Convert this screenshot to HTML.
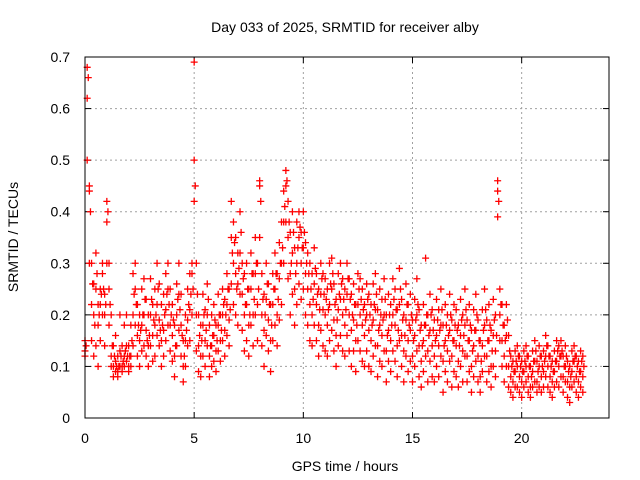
<!DOCTYPE html>
<html><head><meta charset="utf-8"><style>
body{margin:0;background:#fff;}
svg{display:block;font-family:"Liberation Sans",sans-serif;}
</style></head><body>
<svg id="chart" width="640" height="480" viewBox="0 0 640 480">
<rect width="640" height="480" fill="#fff"/>
<text x="345" y="32" font-size="14" text-anchor="middle" fill="#000">Day 033 of 2025, SRMTID for receiver alby</text>
<text transform="translate(18,237) rotate(-90)" font-size="14" text-anchor="middle" fill="#000">SRMTID / TECUs</text>
<text x="345" y="471" font-size="14" text-anchor="middle" fill="#000">GPS time / hours</text>
<g id="grid"></g>
<g id="ticks"></g>
<g id="marks"></g>
<rect x="85" y="57" width="524" height="361" fill="none" stroke="#000" stroke-width="1"/>
</svg>
<script>
const xTicks=[0,5,10,15,20];
const yTicks=[0,0.1,0.2,0.3,0.4,0.5,0.6,0.7];
const yTickLabels=["0","0.1","0.2","0.3","0.4","0.5","0.6","0.7"];
const tStart=0, tStep=0.1, tStartD=0.05;
const trackA=[.13,.62,.45,.22,.2,.25,.18,.22,.28,.2,.38,.25,.12,.1,.11,.09,.13,.1,.12,.14,.1,.12,.2,.25,.16,.15,.18,.2,.17,.14,.2,.16,.18,.22,.19,.15,.17,.21,.25,.18,.16,.12,.2,.24,.18,.1,.15,.19,.21,.28,.5,.2,.14,.12,.18,.15,.2,.12,.14,.16,.13,.18,.15,.2,.17,.22,.19,.35,.3,.28,.26,.32,.24,.2,.22,.18,.25,.2,.28,.22,.45,.2,.17,.23,.19,.15,.22,.25,.2,.27,.3,.38,.45,.35,.28,.32,.25,.3,.35,.3,.33,.28,.25,.22,.2,.26,.22,.18,.24,.21,.2,.18,.22,.25,.19,.16,.21,.23,.2,.18,.24,.2,.17,.19,.15,.22,.2,.18,.16,.2,.17,.15,.19,.21,.14,.18,.16,.2,.13,.17,.15,.2,.18,.14,.22,.16,.13,.19,.15,.17,.12,.16,.2,.14,.11,.15,.18,.13,.17,.14,.12,.16,.14,.18,.11,.15,.13,.17,.12,.15,.14,.11,.16,.13,.18,.12,.15,.1,.14,.17,.12,.08,.14,.18,.12,.15,.1,.16,.13,.44,.2,.15,.12,.16,.1,.08,.07,.09,.1,.08,.07,.09,.1,.08,.06,.09,.11,.07,.1,.08,.09,.12,.1,.08,.07,.09,.11,.1,.12,.08,.1,.07,.06,.09,.11,.08,.07,.09,.08];
const trackB=[.15,.68,.44,.3,.26,.32,.22,.25,.3,.24,.42,.3,.2,.14,.16,.12,.2,.14,.18,.2,.14,.18,.28,.3,.22,.2,.25,.27,.23,.2,.27,.22,.25,.3,.26,.22,.24,.28,.3,.25,.22,.18,.26,.3,.24,.15,.2,.25,.28,.3,.69,.3,.2,.18,.24,.21,.26,.18,.2,.22,.18,.24,.2,.25,.23,.28,.25,.42,.38,.35,.32,.4,.3,.28,.3,.25,.32,.28,.35,.3,.46,.28,.24,.3,.26,.22,.28,.32,.28,.34,.38,.44,.48,.42,.36,.4,.33,.38,.4,.36,.4,.34,.32,.3,.28,.33,.28,.25,.3,.28,.27,.25,.3,.31,.26,.23,.28,.3,.27,.25,.3,.27,.24,.26,.22,.28,.27,.25,.22,.26,.24,.22,.26,.28,.21,.25,.23,.27,.2,.24,.22,.27,.25,.21,.29,.23,.2,.26,.22,.24,.19,.23,.27,.21,.18,.22,.31,.2,.24,.21,.19,.23,.21,.25,.18,.22,.2,.24,.19,.22,.21,.18,.23,.2,.25,.19,.22,.17,.21,.24,.19,.15,.21,.25,.19,.22,.17,.23,.2,.46,.25,.22,.18,.22,.16,.12,.11,.13,.14,.12,.11,.13,.14,.12,.1,.13,.15,.11,.14,.12,.13,.16,.14,.12,.11,.13,.15,.14,.15,.12,.14,.11,.1,.13,.14,.12,.11,.13,.12];
const trackC=[.12,.5,.3,.15,.12,.14,.1,.15,.2,.14,.3,.18,.1,.08,.09,.08,.1,.09,.1,.11,.09,.1,.14,.18,.12,.1,.13,.14,.12,.1,.14,.11,.12,.16,.14,.1,.12,.15,.18,.13,.11,.08,.14,.17,.12,.07,.1,.14,.15,.2,.42,.13,.09,.08,.12,.1,.14,.08,.1,.11,.09,.13,.11,.15,.12,.16,.14,.26,.22,.2,.18,.24,.17,.13,.15,.12,.18,.14,.2,.15,.35,.14,.1,.16,.13,.09,.15,.18,.14,.19,.22,.3,.38,.27,.2,.24,.18,.22,.26,.23,.25,.2,.18,.15,.14,.18,.15,.12,.17,.14,.13,.12,.15,.17,.13,.1,.14,.16,.13,.12,.16,.13,.1,.13,.09,.15,.13,.11,.1,.13,.1,.09,.12,.14,.08,.11,.1,.13,.07,.11,.09,.13,.11,.08,.15,.1,.07,.12,.09,.11,.07,.1,.13,.08,.06,.09,.12,.07,.11,.08,.07,.1,.08,.12,.05,.09,.07,.11,.06,.09,.08,.06,.1,.07,.12,.07,.09,.05,.08,.11,.07,.05,.09,.12,.07,.09,.06,.1,.08,.39,.15,.1,.07,.1,.06,.05,.04,.06,.06,.05,.04,.06,.07,.05,.04,.06,.07,.05,.06,.05,.06,.08,.06,.05,.04,.06,.07,.06,.08,.05,.07,.04,.03,.06,.07,.05,.04,.06,.05];
const trackD=[.14,.66,.4,.26,.18,.28,.2,.24,.25,.22,.4,.22,.14,.12,.1,.1,.12,.11,.13,.12,.12,.15,.24,.22,.18,.17,.2,.23,.15,.16,.23,.19,.2,.25,.17,.18,.2,.24,.22,.2,.19,.14,.23,.21,.16,.12,.17,.22,.24,.25,.45,.24,.16,.15,.2,.17,.23,.14,.16,.19,.15,.2,.17,.22,.2,.25,.21,.32,.34,.25,.29,.36,.27,.22,.25,.2,.28,.23,.3,.25,.42,.23,.2,.26,.22,.18,.25,.28,.23,.3,.33,.41,.46,.38,.3,.36,.28,.33,.37,.33,.36,.3,.28,.25,.23,.29,.24,.21,.27,.24,.23,.21,.26,.28,.22,.19,.24,.26,.23,.21,.27,.23,.2,.22,.18,.25,.23,.21,.19,.23,.2,.18,.22,.24,.17,.2,.19,.23,.16,.2,.18,.23,.21,.17,.25,.19,.16,.22,.18,.2,.15,.19,.22,.17,.14,.18,.2,.16,.2,.17,.15,.19,.17,.21,.14,.18,.16,.2,.15,.18,.17,.14,.19,.16,.21,.15,.18,.13,.17,.2,.15,.11,.17,.21,.15,.18,.13,.19,.16,.42,.22,.18,.15,.19,.13,.1,.09,.11,.12,.1,.09,.11,.12,.1,.08,.11,.13,.09,.12,.1,.11,.14,.12,.1,.09,.11,.13,.12,.13,.1,.12,.09,.08,.11,.12,.1,.09,.11,.1];

const X0=85,X1=609,Y0=418,Y1=57,XMAX=24,YMAX=0.7;
function xs(t){return X0+(X1-X0)*t/XMAX;}
function ys(v){return Y0-(Y0-Y1)*v/YMAX;}
const NS="http://www.w3.org/2000/svg";
const grid=document.getElementById('grid'),ticks=document.getElementById('ticks'),marks=document.getElementById('marks');
function mk(tag,attrs,parent){const e=document.createElementNS(NS,tag);for(const k in attrs)e.setAttribute(k,attrs[k]);parent.appendChild(e);return e;}
xTicks.forEach((t,i)=>{
  const x=xs(t);
  if(t>0){const g=mk('line',{x1:x,x2:x,y1:Y1,y2:Y0,stroke:'#a0a0a0','stroke-dasharray':'2,3'},grid);
  
  }
  mk('line',{x1:x,x2:x,y1:Y0,y2:Y0-6,stroke:'#000'},ticks);
  mk('line',{x1:x,x2:x,y1:Y1,y2:Y1+6,stroke:'#000'},ticks);
  const l=mk('text',{x:x,y:443,'font-size':14,'text-anchor':'middle',fill:'#000'},ticks);
  l.textContent=String(t);
  
  
});
yTicks.forEach((v,i)=>{
  const y=ys(v);
  if(v>0&&v<YMAX){const g=mk('line',{x1:X0,x2:X1,y1:y,y2:y,stroke:'#a0a0a0','stroke-dasharray':'2,3'},grid);
  
  }
  mk('line',{x1:X0,x2:X0+6,y1:y,y2:y,stroke:'#000'},ticks);
  mk('line',{x1:X1,x2:X1-6,y1:y,y2:y,stroke:'#000'},ticks);
  const l=mk('text',{x:70,y:y+5,'font-size':14,'text-anchor':'end',fill:'#000'},ticks);
  l.textContent=yTickLabels[i];
  
  
});
function cross(t,v,color){
  const x=xs(t),y=ys(v);
  const p=mk('path',{d:`M${x-3.5},${y}H${x+3.5}M${x},${y-3.5}V${y+3.5}`,stroke:color,'stroke-width':1.3,fill:'none'},marks);
  
  
}
[trackA,trackB,trackC].forEach(tr=>tr.forEach((v,i)=>cross(tStart+i*tStep,v,'#ff0000')));
trackD.forEach((v,i)=>cross(tStartD+i*tStep,v,'#ff0000'));
</script>
</body></html>
